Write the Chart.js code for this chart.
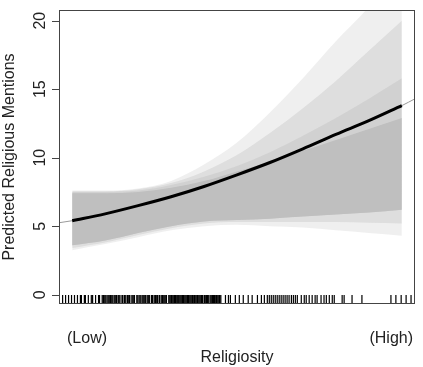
<!DOCTYPE html>
<html>
<head>
<meta charset="utf-8">
<script src="https://cdn.jsdelivr.net/npm/chart.js@4.4.1/dist/chart.umd.min.js"></script>
<style>
  html, body { margin: 0; padding: 0; background: #fff; }
  #wrap { width: 423px; height: 367px; }
</style>
</head>
<body>
<div id="wrap"><canvas id="chart"></canvas></div>
<script>
// religiosity, scaled 0 (low) .. 100 (high)
const xs = [0, 10, 20, 30, 40, 50, 60, 70, 80, 90, 100];

// predicted mentions (black curve)
const predicted = [5.4, 5.9, 6.5, 7.15, 7.9, 8.75, 9.65, 10.65, 11.7, 12.7, 13.8];

// thin line under the curve, over the full axis range
const extX = [-4, 0, 10, 20, 30, 40, 50, 60, 70, 80, 90, 100, 104];
const extY = [5.25, 5.4, 5.9, 6.5, 7.15, 7.9, 8.75, 9.65, 10.65, 11.7, 12.7, 13.8, 14.3];

// simulated curves, read as envelopes: faint outer .. dense core
const outerLow = [3.25, 3.7, 4.2, 4.7, 5.0, 5.1, 5.0, 4.9, 4.7, 4.5, 4.3];
const outerHigh = [7.6, 7.6, 7.75, 8.3, 9.5, 11.1, 13.3, 15.8, 18.5, 21, 24];
const midLow = [3.4, 3.8, 4.35, 4.85, 5.2, 5.3, 5.3, 5.3, 5.3, 5.25, 5.2];
const midHigh = [7.55, 7.55, 7.7, 8.15, 9.0, 10.2, 11.8, 13.6, 15.6, 17.8, 20.0];
const innerHigh = [7.5, 7.5, 7.6, 8.0, 8.6, 9.4, 10.4, 11.6, 12.9, 14.3, 15.8];
const coreLow = [3.6, 3.95, 4.5, 5.0, 5.35, 5.45, 5.55, 5.7, 5.85, 6.0, 6.2];
const coreHigh = [7.4, 7.4, 7.5, 7.8, 8.3, 9.0, 9.7, 10.5, 11.3, 12.1, 12.9];

// rug of observed religiosity values
const rug = [-2.9, -2.0, -1.1, -0.2, 0.7, 1.6, 2.5, 2.8, 3.7, 4.0, 4.9, 5.8, 6.2, 7.1, 8.0, 8.3,
  9.1, 9.5, 9.9, 10.3, 10.8, 11.2, 11.6, 12.0, 12.4, 12.9, 13.3, 13.6, 14.1, 14.5, 15.1, 15.4,
  15.9, 16.3, 16.8, 17.2, 17.5, 18.1, 18.5, 18.9, 19.6, 20.0, 20.5, 20.9, 21.4, 21.8, 22.2, 22.7,
  23.1, 23.5, 24.1, 24.4, 24.9, 25.3, 25.7, 26.0, 26.5, 27.0, 27.4, 27.8, 28.2, 28.6, 29.3, 29.7,
  30.1, 30.5, 30.9, 31.2, 31.5, 31.9, 32.3, 32.7, 33.1, 33.5, 33.8, 34.2, 34.6, 35.0, 35.3, 35.7,
  36.1, 36.5, 36.9, 37.2, 37.6, 38.0, 38.4, 38.8, 39.2, 39.5, 40.0, 40.3, 40.7, 41.0, 41.3, 41.8,
  42.2, 42.6, 42.9, 43.2, 43.6, 43.9, 44.3, 44.7, 45.1, 46.5, 47.4, 48.0, 49.5, 50.7, 51.9, 53.4,
  54.6, 56.2, 57.4, 58.3, 59.2, 59.8, 60.4, 61.0, 61.6, 62.2, 62.8, 63.4, 64.0, 64.6, 65.2, 65.8,
  66.5, 67.1, 67.7, 68.3, 69.5, 70.4, 71.0, 71.9, 72.8, 73.7, 74.3, 75.5, 76.4, 77.1, 78.0, 78.9,
  79.5, 81.9, 82.5, 84.9, 87.9, 96.7, 98.2, 99.8, 101.3, 102.8];

const yTicks = [0, 5, 10, 15, 20];
const xLabels = [{ x: 4.5, text: '(Low)' }, { x: 96.8, text: '(High)' }];

const FONT = '"Liberation Sans", Arial, sans-serif';

const pts = (xv, yv) => xv.map((x, i) => ({ x, y: yv[i] }));

// chart.js draws lower "order" on top
const band = (data, fill, color, order) => ({
  data: pts(xs, data),
  borderWidth: 0,
  pointRadius: 0,
  fill: fill,
  backgroundColor: color,
  cubicInterpolationMode: 'monotone',
  order: order,
});

// R-style box, axis, labels and rug
const rAxes = {
  id: 'rAxes',
  afterDraw(chart) {
    const { ctx, chartArea: a, scales } = chart;
    const sx = scales.x, sy = scales.y;
    ctx.save();

    // rug
    ctx.strokeStyle = '#000';
    ctx.lineWidth = 1.2;
    ctx.beginPath();
    rug.forEach(v => {
      const px = sx.getPixelForValue(v);
      ctx.moveTo(px, a.bottom);
      ctx.lineTo(px, a.bottom - 9);
    });
    ctx.stroke();

    // box
    ctx.strokeStyle = '#444';
    ctx.lineWidth = 1;
    ctx.strokeRect(a.left + 0.5, a.top + 0.5, a.right - a.left - 1, a.bottom - a.top - 1);

    // y axis ticks
    ctx.beginPath();
    yTicks.forEach(t => {
      const py = Math.round(sy.getPixelForValue(t)) + 0.5;
      ctx.moveTo(a.left, py);
      ctx.lineTo(a.left - 7, py);
    });
    ctx.stroke();

    ctx.fillStyle = '#222';
    ctx.font = '16px ' + FONT;
    ctx.textAlign = 'center';
    ctx.textBaseline = 'alphabetic';
    yTicks.forEach(t => {
      const py = sy.getPixelForValue(t);
      ctx.save();
      ctx.translate(45, py);
      ctx.rotate(-Math.PI / 2);
      ctx.fillText(String(t), 0, 0);
      ctx.restore();
    });

    // y title
    ctx.save();
    ctx.translate(14, (a.top + a.bottom) / 2);
    ctx.rotate(-Math.PI / 2);
    ctx.fillText('Predicted Religious Mentions', 0, 0);
    ctx.restore();

    // x labels and title
    xLabels.forEach(l => ctx.fillText(l.text, sx.getPixelForValue(l.x), 343));
    ctx.fillText('Religiosity', (a.left + a.right) / 2, 362);

    ctx.restore();
  }
};

new Chart(document.getElementById('chart'), {
  type: 'line',
  data: {
    datasets: [
      band(outerLow, false, 'transparent', 9),
      band(outerHigh, '-1', 'rgba(190,190,190,0.25)', 8),
      band(midLow, false, 'transparent', 7),
      band(midHigh, '-1', 'rgba(190,190,190,0.35)', 6),
      band(coreLow, false, 'transparent', 5),
      band(innerHigh, '-1', 'rgba(190,190,190,0.4)', 4),
      band(coreLow, false, 'transparent', 3),
      band(coreHigh, '-1', '#bfbfbf', 2),
      {
        data: pts(extX, extY),
        borderColor: '#9a9a9a',
        borderWidth: 1,
        pointRadius: 0,
        fill: false,
        cubicInterpolationMode: 'monotone',
        order: 1,
      },
      {
        data: pts(xs, predicted),
        borderColor: '#000',
        borderWidth: 3,
        pointRadius: 0,
        fill: false,
        cubicInterpolationMode: 'monotone',
        order: 0,
      },
    ],
  },
  options: {
    responsive: true,
    maintainAspectRatio: false,
    animation: false,
    layout: { padding: { left: 59, right: 8, top: 10, bottom: 63 } },
    plugins: { legend: { display: false }, tooltip: { enabled: false } },
    scales: {
      x: { type: 'linear', min: -4, max: 104, display: false },
      y: { min: -0.68, max: 20.78, display: false },
    },
  },
  plugins: [rAxes],
});
</script>
</body>
</html>
